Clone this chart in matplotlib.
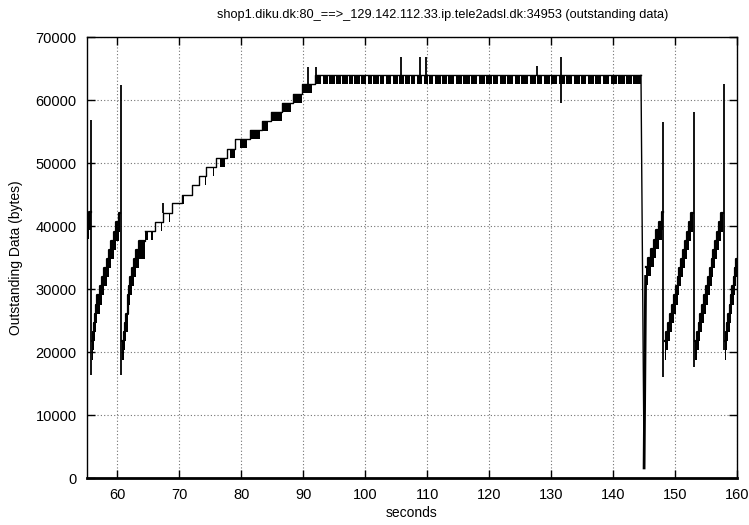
import numpy as np
import matplotlib as mpl
mpl.use('Agg')
import matplotlib.pyplot as plt

plt.rcParams['font.family'] = ['Liberation Sans', 'DejaVu Sans']

title = 'shop1.diku.dk:80_==>_129.142.112.33.ip.tele2adsl.dk:34953 (outstanding data)'

# sawtooth ramps: step start times (s) and top level of each step (bytes), last entry = end of ramp
ramp0_t = [55.00, 55.35, 55.75]
ramp0_v = [40900, 42300, 42300]

ramp1_t = [55.90, 56.05, 56.22, 56.40, 56.58, 56.75, 57.13, 57.51, 57.89, 58.27, 58.65, 59.03, 59.41, 59.79, 60.17, 60.45]
ramp1_v = [21700, 23200, 24600, 26100, 27500, 29000, 30400, 31900, 33300, 34800, 36200, 37700, 39100, 40600, 42000, 42000]

ramp2_t = [60.80, 60.98, 61.20, 61.42, 61.62, 61.70, 61.85, 62.10, 62.35, 62.65, 63.00, 63.45, 64.40]
ramp2_v = [21700, 23200, 24600, 26100, 27500, 29000, 30400, 31900, 33300, 34800, 36200, 37700, 37700]

ramp3_t = [145.25, 145.70, 146.12, 146.55, 147.00, 147.43, 147.85, 148.05]
ramp3_v = [33500, 34900, 36400, 37800, 39300, 40700, 42200, 42200]

ramp4_t = [148.30, 148.60, 148.90, 149.20, 149.50, 149.80, 150.10, 150.40, 150.70, 151.00, 151.30, 151.60, 151.90, 152.20, 152.50, 152.90]
ramp4_v = [21700, 23200, 24600, 26100, 27500, 29000, 30400, 31900, 33300, 34800, 36200, 37700, 39100, 40600, 42000, 42000]

ramp5_t = [153.20, 153.50, 153.80, 154.10, 154.40, 154.70, 155.00, 155.30, 155.60, 155.90, 156.20, 156.50, 156.80, 157.10, 157.40, 157.80]
ramp5_v = [21700, 23200, 24600, 26100, 27500, 29000, 30400, 31900, 33300, 34800, 36200, 37700, 39100, 40600, 42000, 42000]

ramp6_t = [158.00, 158.18, 158.38, 158.58, 158.80, 159.02, 159.25, 159.50, 159.72, 159.90, 160.00]
ramp6_v = [21700, 23200, 24600, 26100, 27500, 29000, 30400, 31900, 33300, 34800, 34800]

# slow staircase up to the plateau (thin line), last entry = end of plateau
mid_t = [64.40, 66.07, 67.31, 68.76, 70.45, 71.99, 73.22, 74.30, 75.92, 77.65, 79.00, 81.35,
         83.40, 84.70, 86.50, 88.25, 89.80, 91.90, 144.50]
mid_v = [39200, 40700, 42100, 43600, 45000, 46500, 47900, 49400, 50800, 52300, 53800, 55200,
         56600, 58100, 59600, 61000, 62500, 63900, 63900]

# dense bursts on the slow staircase
blk_t0 = [64.40, 65.35, 66.05, 67.00, 68.30, 70.45, 74.18, 75.40, 76.60, 78.20, 79.80, 81.40, 83.50, 84.85, 86.55, 88.35, 89.80]
blk_t1 = [64.95, 65.75, 66.20, 67.15, 68.45, 70.75, 74.32, 75.65, 77.40, 79.00, 80.90, 83.00, 84.30, 86.50, 88.00, 89.80, 91.40]
blk_top = [39200, 39200, 40700, 40700, 42100, 45000, 47900, 49400, 50800, 52300, 53800, 55200, 56600, 58100, 59600, 61000, 62500]

# plateau: band between these levels, broken by short gaps
flat_lo, flat_hi = 62500, 63900
flat_start, flat_end = 91.90, 144.50
flat_gaps = [93.0, 94.1, 95.2, 96.2, 97.3, 98.1, 99.2, 100.3, 101.2, 102.3, 103.2, 104.3, 105.4,
             106.3, 107.3, 108.2, 109.3, 110.2, 111.1, 112.3, 113.3, 114.5, 115.7, 117.0, 118.2,
             119.4, 120.5, 121.6, 122.8, 124.0, 125.1, 126.4, 127.6, 128.7, 129.9, 131.1, 132.3,
             133.5, 134.7, 135.8, 137.0, 138.2, 139.5, 140.7, 142.0, 143.1]

# collapse after the plateau
drop_t = [144.50, 145.00]
drop_v = [63900, 1600]
rise_t = [145.00, 145.25]
rise_v = [1600, 32000]

# vertical spikes
spike_t = [55.80, 60.50, 67.42, 90.83, 92.07, 105.81, 108.77, 109.80, 127.73, 131.65, 148.10, 153.00, 157.86]
spike_lo = [16350, 16350, 42100, 62500, 63900, 63900, 63900, 63900, 63900, 59500, 16080, 17670, 20300]
spike_hi = [56800, 62400, 43600, 65290, 65290, 66900, 66900, 66900, 65400, 66800, 56550, 58150, 62540]

mss = 1450
ramp_depth = 2900

fig = plt.figure(figsize=(7.49, 5.25), dpi=100)
ax = fig.add_axes([0.1155, 0.0895, 0.8685, 0.84])

def stairs(t, v, depth, lw=1.6):
    t = np.array(t)
    v = np.array(v)
    ax.fill_between(t, v - depth, v, step='post', color='k', lw=0, zorder=3)
    ax.step(t, v, where='post', color='k', lw=lw, zorder=3)

for rt, rv in [(ramp0_t, ramp0_v), (ramp1_t, ramp1_v), (ramp2_t, ramp2_v), (ramp3_t, ramp3_v),
               (ramp4_t, ramp4_v), (ramp5_t, ramp5_v), (ramp6_t, ramp6_v)]:
    stairs(rt, rv, ramp_depth)

ax.step(mid_t, mid_v, where='post', color='k', lw=1.0, zorder=3)
t0 = np.array(blk_t0)
t1 = np.array(blk_t1)
ax.bar(t0, mss, width=t1 - t0, bottom=np.array(blk_top) - mss, align='edge', color='k', lw=0, zorder=3)

gap_w = 0.22
g = np.array(flat_gaps)
starts = np.concatenate([[flat_start], g + gap_w / 2])
ends = np.concatenate([g - gap_w / 2, [flat_end]])
ax.broken_barh(list(zip(starts, ends - starts)), (flat_lo, flat_hi - flat_lo), color='k', lw=0, zorder=3)

ax.plot(drop_t, drop_v, color='k', lw=1.0, zorder=3)
ax.plot(rise_t, rise_v, color='k', lw=2.0, zorder=3)
ax.vlines(spike_t, spike_lo, spike_hi, color='k', lw=1.3, zorder=3)

ax.set_xlim(55, 160)
ax.set_ylim(0, 70000)
ax.set_xticks(range(60, 161, 10))
ax.set_yticks(range(0, 70001, 10000))
ax.grid(True, ls=(0, (1, 2)), color='0.45', lw=0.8)
ax.set_axisbelow(True)
ax.tick_params(direction='in', top=True, right=True, length=6, width=1, labelsize=10.5, pad=7)
for s in ax.spines.values():
    s.set_linewidth(1.0)
ax.spines['bottom'].set_linewidth(2.0)

ax.set_xlabel('seconds', fontsize=10, labelpad=3)
ax.set_ylabel('Outstanding Data (bytes)', fontsize=10, labelpad=9)
fig.text(0.591, 0.971, title, fontsize=9.2, ha='center', va='center')

plt.savefig('out.png', dpi=100)
plt.close()
